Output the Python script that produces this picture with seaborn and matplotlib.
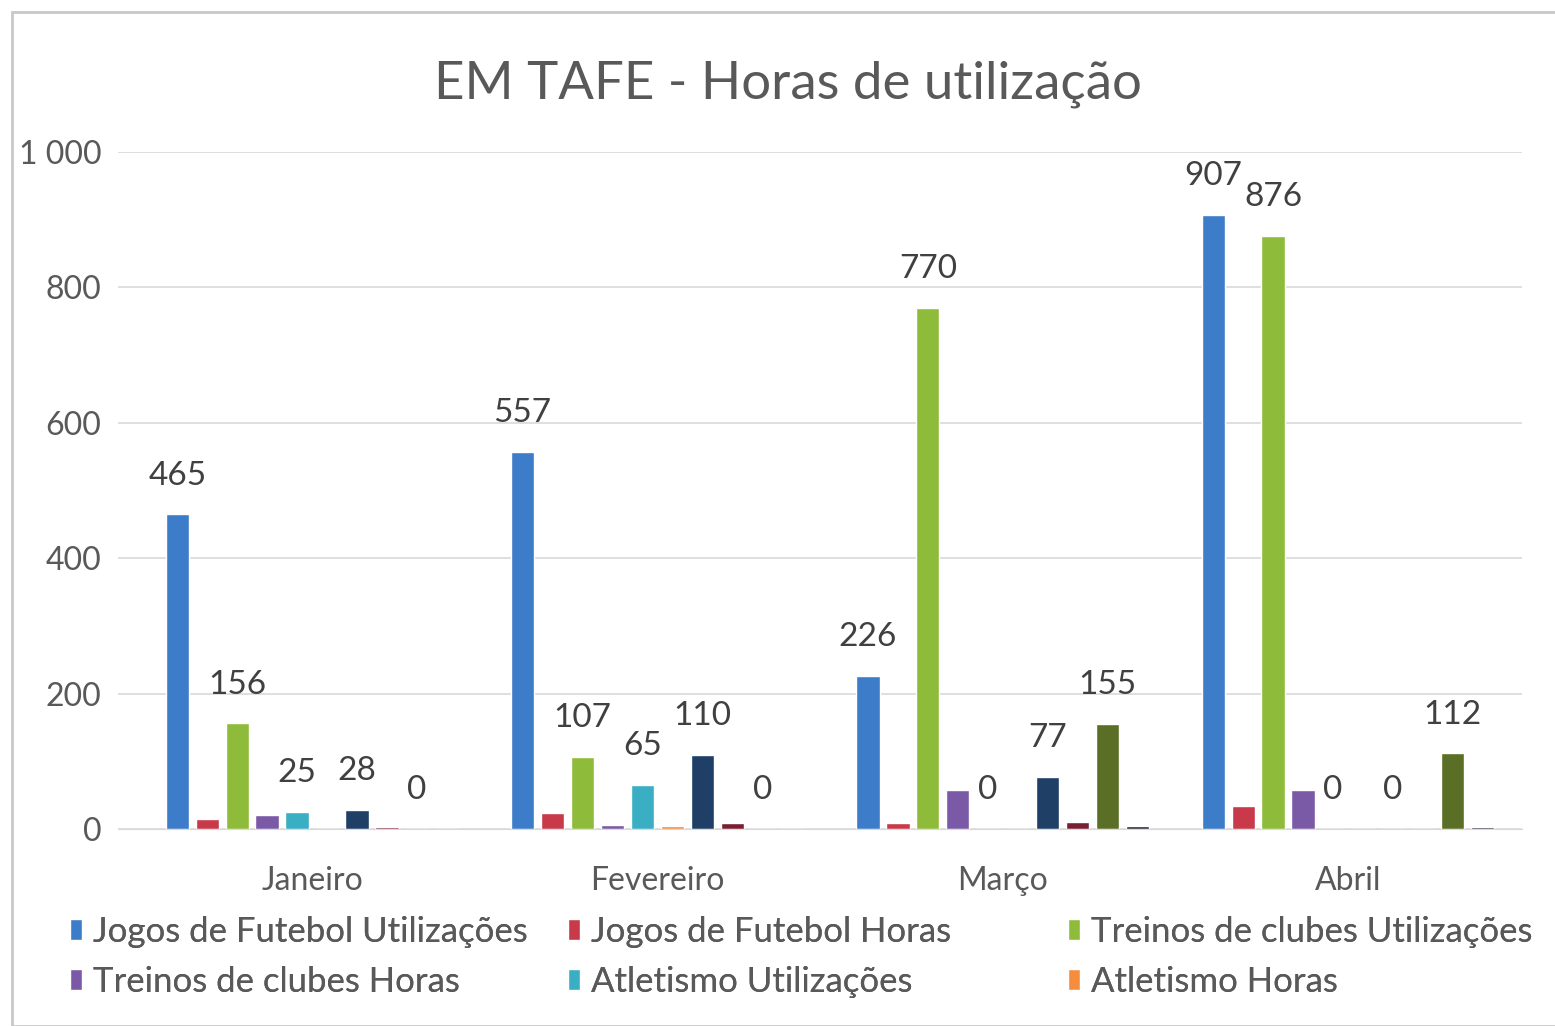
import pandas as pd
import numpy as np
import matplotlib
matplotlib.use('Agg')
import matplotlib.pyplot as plt
from matplotlib.ticker import FuncFormatter
import seaborn as sns

meses = ['Janeiro', 'Fevereiro', 'Março', 'Abril']
series = ['Jogos de Futebol Utilizações', 'Jogos de Futebol Horas',
          'Treinos de clubes Utilizações', 'Treinos de clubes Horas',
          'Atletismo Utilizações', 'Atletismo Horas',
          'Série 7 Utilizações', 'Série 7 Horas',
          'Série 8 Utilizações', 'Série 8 Horas']
# valores por série (Jan, Fev, Mar, Abr)
jogos_util = [465, 557, 226, 907]
jogos_horas = [15, 24, 9, 34]
treinos_util = [156, 107, 770, 876]
treinos_horas = [20, 6, 58, 58]
atl_util = [25, 65, 0, 0]
atl_horas = [0, 5, 0, 0]
s7_util = [28, 110, 77, 0]
s7_horas = [3, 9, 10, 0]
s8_util = [0, 0, 155, 112]
s8_horas = [0, 0, 5, 3]

valores = [jogos_util, jogos_horas, treinos_util, treinos_horas, atl_util,
           atl_horas, s7_util, s7_horas, s8_util, s8_horas]
cores = ['#3D7CC9', '#C8394A', '#8EBC3A', '#7A5AA6', '#3AAFC4',
         '#F58D3D', '#1F3F66', '#7A1F33', '#5B6E25', '#2B2B3A']

rows = []
for s, vals in zip(series, valores):
    for m, v in zip(meses, vals):
        rows.append({'Mes': m, 'Serie': s, 'Valor': v})
df = pd.DataFrame(rows)

sns.set_style('white')
plt.rcParams['font.family'] = ['Lato', 'DejaVu Sans']
cinza = '#595959'

fig = plt.figure(figsize=(15.55, 10.26), dpi=100)
ax = fig.add_axes([118/1555, 197/1026, (1522-118)/1555, (829-152)/1026])

sns.barplot(data=df, x='Mes', y='Valor', hue='Serie', hue_order=series,
            palette=cores, width=0.867, gap=0.22, ax=ax, saturation=1,
            legend=True)

# rótulos só nas séries de utilizações
for i, cont in enumerate(ax.containers):
    if i % 2 == 0:
        ax.bar_label(cont, fmt='%d', padding=17, fontsize=24, color='#404040')

ax.set_ylim(0, 1000)
ax.set_xlim(-0.562, 3.504)
ax.set_yticks(np.arange(0, 1001, 200))
ax.yaxis.set_major_formatter(FuncFormatter(lambda v, p: f'{int(v):,}'.replace(',', ' ')))
ax.grid(axis='y', color='#D9D9D9', linewidth=1.2)
ax.set_axisbelow(True)
for sp in ['top', 'right', 'left']:
    ax.spines[sp].set_visible(False)
ax.spines['bottom'].set_color('#D9D9D9')
ax.tick_params(axis='x', length=0, pad=27, labelsize=23, labelcolor=cinza)
ax.tick_params(axis='y', length=0, pad=12, labelsize=23, labelcolor=cinza)
ax.set_xlabel('')
ax.set_ylabel('')

handles, labels = ax.get_legend_handles_labels()
ax.get_legend().remove()
# legenda em 3 colunas de largura igual, como no Excel
col_x = [70, 568, 1068]
for c in range(3):
    idx = [c, c + 3]
    leg = fig.legend([handles[i] for i in idx], [labels[i] for i in idx],
                     loc='upper left', bbox_to_anchor=(col_x[c]/1555, 1 - 916/1026),
                     frameon=False, fontsize=25, labelcolor=cinza,
                     handlelength=0.35, handleheight=0.55, handletextpad=0.3,
                     labelspacing=0.52, borderaxespad=0, borderpad=0)
    fig.add_artist(leg)

fig.text(0.507, 0.918, 'EM TAFE - Horas de utilização', ha='center', va='center',
         fontsize=38, color=cinza)

fig.add_artist(plt.Rectangle((12/1555, 0.0), 1.0, 1 - 12/1026, transform=fig.transFigure,
                             fill=False, edgecolor='#C8C8C8', linewidth=2))

fig.savefig('out.png', dpi=100)
